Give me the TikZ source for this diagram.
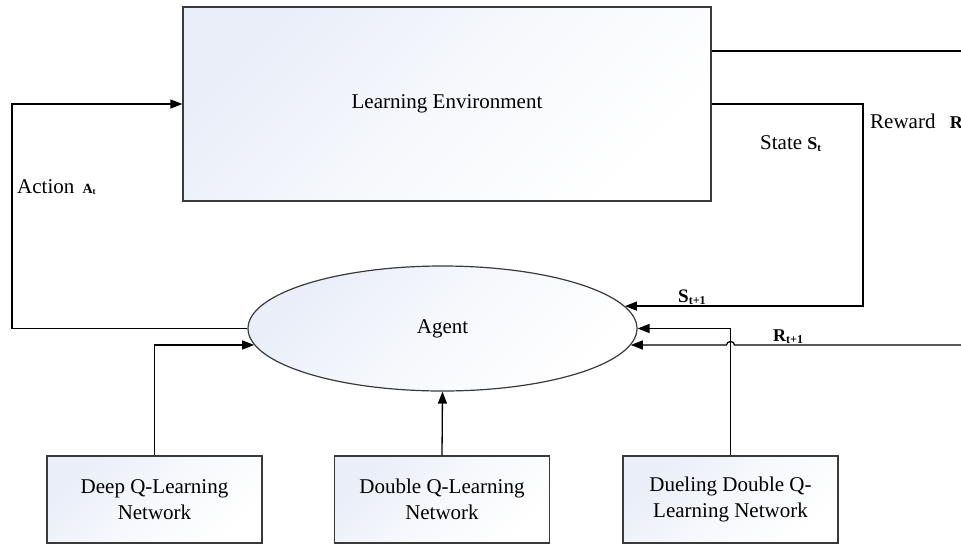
\documentclass[tikz,border=0pt]{standalone}
\usepackage{fontspec}
\setmainfont{Liberation Serif}
\usetikzlibrary{shapes.geometric,arrows.meta,calc}

\definecolor{boxtint}{HTML}{E9EEF8}
\definecolor{edgegray}{HTML}{3A3A3A}

% bold symbol with a bold subscript: {symbol}{subscript}{symbol size}{subscript size}
\newcommand{\symsub}[4]{{\fontsize{#3}{#3}\selectfont\bfseries #1\raisebox{-0.3ex}{\fontsize{#4}{#4}\selectfont #2}}}

\begin{document}
\begin{tikzpicture}[x=1pt,y=-1pt,
  every node/.style={font=\fontsize{21}{26}\selectfont, inner sep=0pt},
  shadedbox/.style={draw=edgegray, line width=1.2pt, top color=boxtint, bottom color=white, middle color=boxtint!40!white, shading angle=45},
  netbox/.style={shadedbox, rectangle, minimum width=215pt, minimum height=87pt, align=center},
  wire/.style={draw=black, line width=1.3pt},
  arr/.style={wire, -{Triangle[length=12pt,width=9pt]}},
]
\useasboundingbox (0,0) rectangle (961,544);
\clip (0,0) rectangle (961,544);

% blocks
\node[shadedbox, rectangle, minimum width=528pt, minimum height=194pt] (env) at (447,104) {Learning Environment};
\node[shadedbox, ellipse, minimum width=389pt, minimum height=125pt] (agent) at (442.5,328.5) {Agent};
\node[netbox] (dqn) at (154.5,499.5) {Deep Q-Learning\\Network};
\node[netbox] (ddqn) at (442,499.5) {Double Q-Learning\\Network};
\node[netbox] (dueling) at (730.5,499.5) {Dueling Double Q-\\Learning Network};

% helper points
\coordinate (actcorner) at (12,104);
\coordinate (stcorner) at (863,104);
\coordinate (rightedge) at (961,0);
\coordinate (rwdout) at (961,51);
\path (agent.-5.4) coordinate (rtip);
\coordinate (rin) at (rtip -| rightedge);
\coordinate (hop) at (dueling.north |- rin);

% action loop
\draw[arr] (agent.west) -| (actcorner) -- (env.west);
% state loop
\draw[arr] (env.east) -- (stcorner) |- (agent.7);
% reward line leaving the environment
\draw[wire] (env.east |- rwdout) -- (rwdout);
% reward returning to the agent, hopping over the dueling feed
\draw[arr] (rin) -- ($(hop)+(4,0)$) .. controls ($(hop)+(4,-4.5)$) and ($(hop)+(-4,-4.5)$) .. ($(hop)+(-4,0)$) -- (rtip);
% networks feeding the agent
\draw[arr] (dqn.north) |- (agent.185);
\draw[arr] (ddqn.north) -- (agent.south);
\draw[arr] (dueling.north) |- (agent.east);

% labels
\node[anchor=base west] (actlbl) at (17,193) {Action\hspace{3pt} \symsub{A}{t}{14}{9}};
\node[anchor=base west] (stlbl) at (760,149) {State \symsub{S}{t}{18}{11}};
\node[anchor=base west] (rwdlbl) at (870,128) {Reward\hspace{9pt} \symsub{R}{t}{18}{11}};
\node[anchor=base west] (snext) at (678,302) {\symsub{S}{t+1}{19}{12}};
\node[anchor=base west] (rnext) at (773,341) {\symsub{R}{t+1}{18}{12}};
\end{tikzpicture}
\end{document}
